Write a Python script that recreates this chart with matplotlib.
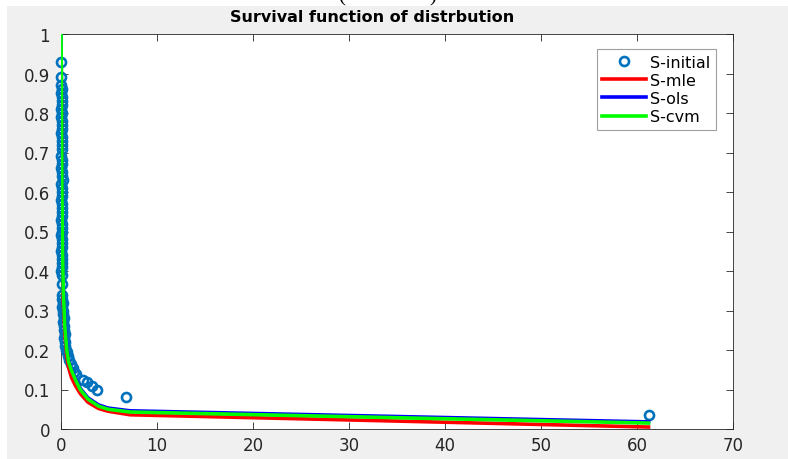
import matplotlib
matplotlib.use("Agg")
import matplotlib.pyplot as plt
from matplotlib.patches import Rectangle

plt.rcParams['font.family'] = ['DejaVu Sans']

# Empirical survival points (S-initial)
s_init_x = [0.02, 0.05, 0.04, 0.08, 0.03, 0.10, 0.06, 0.12, 0.05, 0.09, 0.03, 0.11,
            0.07, 0.14, 0.04, 0.10, 0.06, 0.13, 0.08, 0.02, 0.10, 0.15, 0.05, 0.12,
            0.08, 0.16, 0.04, 0.11, 0.07, 0.14, 0.03, 0.10, 0.06, 0.13, 0.09, 0.04,
            0.12, 0.07, 0.15, 0.05, 0.10, 0.08, 0.13, 0.04, 0.11, 0.07, 0.14, 0.09,
            0.05, 0.12, 0.06, 0.15, 0.10, 0.20, 0.12, 0.25, 0.18, 0.30, 0.22, 0.35,
            0.28, 0.40, 0.33, 0.45, 0.38, 0.50, 0.60, 0.70, 0.85, 1.00, 1.20, 1.40,
            1.60, 2.30, 2.70, 3.20, 3.80, 6.80, 61.2]
s_init_y = [0.93, 0.89, 0.87, 0.86, 0.85, 0.84, 0.83, 0.82, 0.81, 0.80, 0.79, 0.78,
            0.77, 0.76, 0.75, 0.74, 0.73, 0.72, 0.71, 0.69, 0.68, 0.67, 0.66, 0.65,
            0.64, 0.63, 0.62, 0.61, 0.60, 0.59, 0.58, 0.57, 0.56, 0.55, 0.54, 0.53,
            0.52, 0.51, 0.50, 0.49, 0.48, 0.47, 0.46, 0.45, 0.44, 0.43, 0.42, 0.41,
            0.40, 0.39, 0.366, 0.34, 0.33, 0.32, 0.31, 0.30, 0.29, 0.28, 0.27, 0.26,
            0.25, 0.24, 0.23, 0.22, 0.21, 0.20, 0.195, 0.185, 0.175, 0.165, 0.155, 0.145,
            0.138, 0.125, 0.118, 0.109, 0.100, 0.081, 0.035]

# Fitted survival curves evaluated on the sorted sample
fit_x = [0, 0.05, 0.10, 0.15, 0.24, 0.40, 0.60, 0.80, 1.10, 1.50, 2.00, 2.80, 3.90, 4.90, 7.20, 61.2]
s_mle = [1.0, 0.82, 0.57, 0.44, 0.32, 0.24, 0.185, 0.155, 0.130, 0.110, 0.090, 0.068, 0.052, 0.045, 0.036, 0.005]
s_ols = [1.0, 0.86, 0.61, 0.48, 0.36, 0.27, 0.205, 0.175, 0.152, 0.128, 0.103, 0.079, 0.061, 0.053, 0.046, 0.018]
s_cvm = [1.0, 0.85, 0.60, 0.47, 0.35, 0.26, 0.200, 0.170, 0.148, 0.125, 0.100, 0.076, 0.058, 0.050, 0.043, 0.015]

x_ticks = [0, 10, 20, 30, 40, 50, 60, 70]
y_ticks = [0, 0.1, 0.2, 0.3, 0.4, 0.5, 0.6, 0.7, 0.8, 0.9, 1]
y_tick_labels = ['0', '0.1', '0.2', '0.3', '0.4', '0.5', '0.6', '0.7', '0.8', '0.9', '1']

W, H = 788, 460
fig = plt.figure(figsize=(W / 100, H / 100), dpi=100, facecolor='white')
# grey figure panel behind the axes
fig.patches.append(Rectangle((7 / W, -0.05), 1.1, (H - 7) / H + 0.05, transform=fig.transFigure,
                             facecolor='#f0f0f0', edgecolor='none', zorder=0))

# caption above the panel, mostly cut off
fig.text(342 / W, (H - 1) / H, '(', fontsize=15, family='Liberation Serif', va='baseline', ha='center')
fig.text(433 / W, (H - 1) / H, ')', fontsize=15, family='Liberation Serif', va='baseline', ha='center')

ax = fig.add_axes([61 / W, 30 / H, 672 / W, 395 / H])
ax.set_zorder(2)
ax.set_facecolor('white')

ax.plot(s_init_x, s_init_y, 'o', mfc='none', mec='#0072BD', ms=6.5, mew=1.9,
        label='S-initial', clip_on=False, zorder=3)
ax.plot(fit_x, s_mle, color='#ff0000', lw=2.6, label='S-mle', zorder=4)
ax.plot(fit_x, s_ols, color='#0000ff', lw=2.6, label='S-ols', zorder=5)
ax.plot(fit_x, s_cvm, color='#00ff00', lw=2.6, label='S-cvm', zorder=6)

ax.set_xlim(0, 70)
ax.set_ylim(0, 1)
ax.set_xticks(x_ticks)
ax.set_yticks(y_ticks)
ax.set_yticklabels(y_tick_labels)
ax.tick_params(direction='in', length=5, width=0.6, colors='#262626', labelsize=12,
               top=True, right=True, labeltop=False, labelright=False)
ax.tick_params(axis='y', pad=8)
ax.tick_params(axis='x', pad=5)
for s in ax.spines.values():
    s.set_color('#262626')
    s.set_linewidth(0.6)

fig.text(372 / W, (H - 17) / H, 'Survival function of distrbution', fontsize=11.5,
         fontweight='bold', ha='center', va='center', color='black', zorder=3)

leg = ax.legend(loc='upper right', bbox_to_anchor=(0.975, 0.962), borderaxespad=0,
                fancybox=False, edgecolor='#a0a0a0', framealpha=1, fontsize=11.5,
                handlelength=2.7, labelspacing=0.2, borderpad=0.35, handletextpad=0.3)
leg.get_frame().set_linewidth(0.8)

fig.savefig('out.png', dpi=100, facecolor=fig.get_facecolor())
